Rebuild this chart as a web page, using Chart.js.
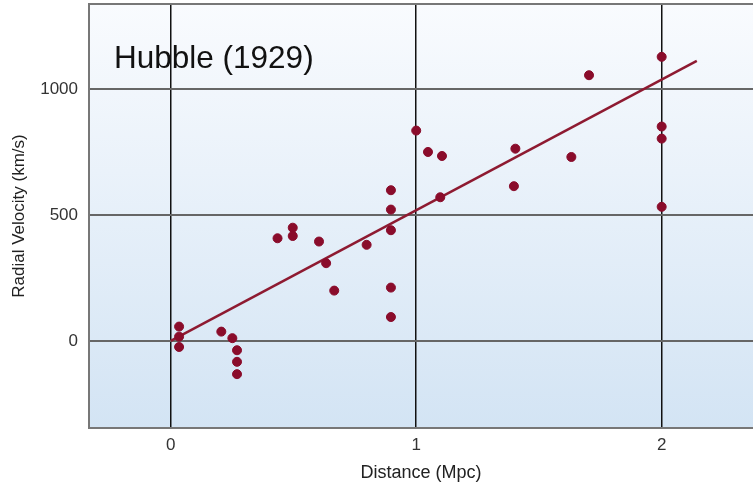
<!DOCTYPE html>
<html>
<head>
<meta charset="utf-8">
<script src="https://cdn.jsdelivr.net/npm/chart.js@4/dist/chart.umd.min.js"></script>
<style>
  html, body { margin: 0; padding: 0; background: #fff; }
  #wrap { width: 753px; height: 486px; position: relative; }
</style>
</head>
<body>
<div id="wrap"><canvas id="chart"></canvas></div>
<script>
// Hubble 1929 data
const distances = [0.034, 0.034, 0.034, 0.206, 0.251, 0.27, 0.27, 0.27,
  0.435, 0.497, 0.497, 0.604, 0.633, 0.666, 0.798,
  0.897, 0.897, 0.897, 0.897, 0.897, 1.0, 1.048, 1.105, 1.098,
  1.404, 1.398, 1.632, 1.704, 2.0, 2.0, 2.0, 2.0];
const velocities = [57, 17, -24, 37, 11, -37, -83, -132,
  408, 450, 417, 395, 309, 200, 382,
  599, 522, 440, 212, 95, 836, 751, 735, 571,
  764, 615, 731, 1056, 1129, 852, 804, 533];

const fitX = [0, 2.143];
const fitY = [0, 1113];

const xTicks = [0, 1, 2];
const yTicks = [0, 500, 1000];

const FONT = "'Liberation Sans', Arial, Helvetica, sans-serif";

const points = distances.map((d, i) => ({ x: d, y: velocities[i] }));
const fitLine = fitX.map((d, i) => ({ x: d, y: fitY[i] }));

const plotBackground = {
  id: "plotBackground",
  beforeDraw(chart) {
    const { ctx, chartArea: a } = chart;
    const g = ctx.createLinearGradient(0, a.top, 0, a.bottom);
    g.addColorStop(0, "#f9fbfe");
    g.addColorStop(1, "#d3e4f4");
    ctx.save();
    ctx.fillStyle = g;
    ctx.fillRect(a.left, a.top, a.right - a.left, a.bottom - a.top);
    ctx.restore();
  },
  afterDraw(chart) {
    const { ctx, chartArea: a } = chart;
    ctx.save();
    ctx.strokeStyle = "#777";
    ctx.lineWidth = 2;
    ctx.beginPath();
    ctx.moveTo(a.left, a.top);
    ctx.lineTo(a.right, a.top);
    ctx.stroke();
    ctx.fillStyle = "#111";
    ctx.font = "31.5px " + FONT;
    ctx.textBaseline = "alphabetic";
    ctx.fillText("Hubble (1929)", 114, 68);
    ctx.restore();
  }
};

new Chart(document.getElementById("chart").getContext("2d"), {
  type: "scatter",
  data: {
    datasets: [
      {
        label: "Galaxies",
        data: points,
        backgroundColor: "#8a0c2b",
        borderColor: "#8a0c2b",
        pointRadius: 4.5,
        order: 1
      },
      {
        label: "Fit",
        type: "line",
        data: fitLine,
        borderColor: "#8e1a31",
        borderWidth: 2.5,
        pointRadius: 0,
        fill: false,
        order: 2
      }
    ]
  },
  options: {
    responsive: true,
    maintainAspectRatio: false,
    animation: false,
    layout: { autoPadding: false, padding: { top: 4, right: 0, left: 0, bottom: 0 } },
    plugins: {
      legend: { display: false },
      tooltip: { enabled: false }
    },
    scales: {
      x: {
        type: "linear",
        min: -0.333,
        max: 2.372,
        afterBuildTicks: (scale) => { scale.ticks = xTicks.map((v) => ({ value: v })); },
        afterFit: (scale) => {
          scale.height = 58;
          scale.paddingLeft = 0;
          scale.paddingRight = 0;
        },
        grid: { color: "#111", lineWidth: 1.5, drawTicks: false },
        border: { display: true, color: "#777", width: 2 },
        ticks: {
          padding: 7,
          color: "#333",
          font: { family: FONT, size: 17 },
          maxRotation: 0,
          callback: (v) => String(v)
        },
        title: {
          display: true,
          text: "Distance (Mpc)",
          color: "#222",
          font: { family: FONT, size: 18 },
          padding: { top: 0, bottom: 2 }
        }
      },
      y: {
        type: "linear",
        min: -346,
        max: 1339,
        afterBuildTicks: (scale) => { scale.ticks = yTicks.map((v) => ({ value: v })); },
        afterFit: (scale) => {
          scale.width = 89;
          scale.paddingTop = 0;
          scale.paddingBottom = 0;
        },
        grid: { color: "#666", lineWidth: 2, drawTicks: false },
        border: { display: true, color: "#777", width: 2 },
        ticks: {
          padding: 11,
          color: "#333",
          font: { family: FONT, size: 17 },
          callback: (v) => String(v)
        },
        title: {
          display: true,
          text: "Radial Velocity (km/s)",
          color: "#222",
          font: { family: FONT, size: 17 },
          padding: { top: 9, bottom: 0 }
        }
      }
    }
  },
  plugins: [plotBackground]
});
</script>
</body>
</html>
